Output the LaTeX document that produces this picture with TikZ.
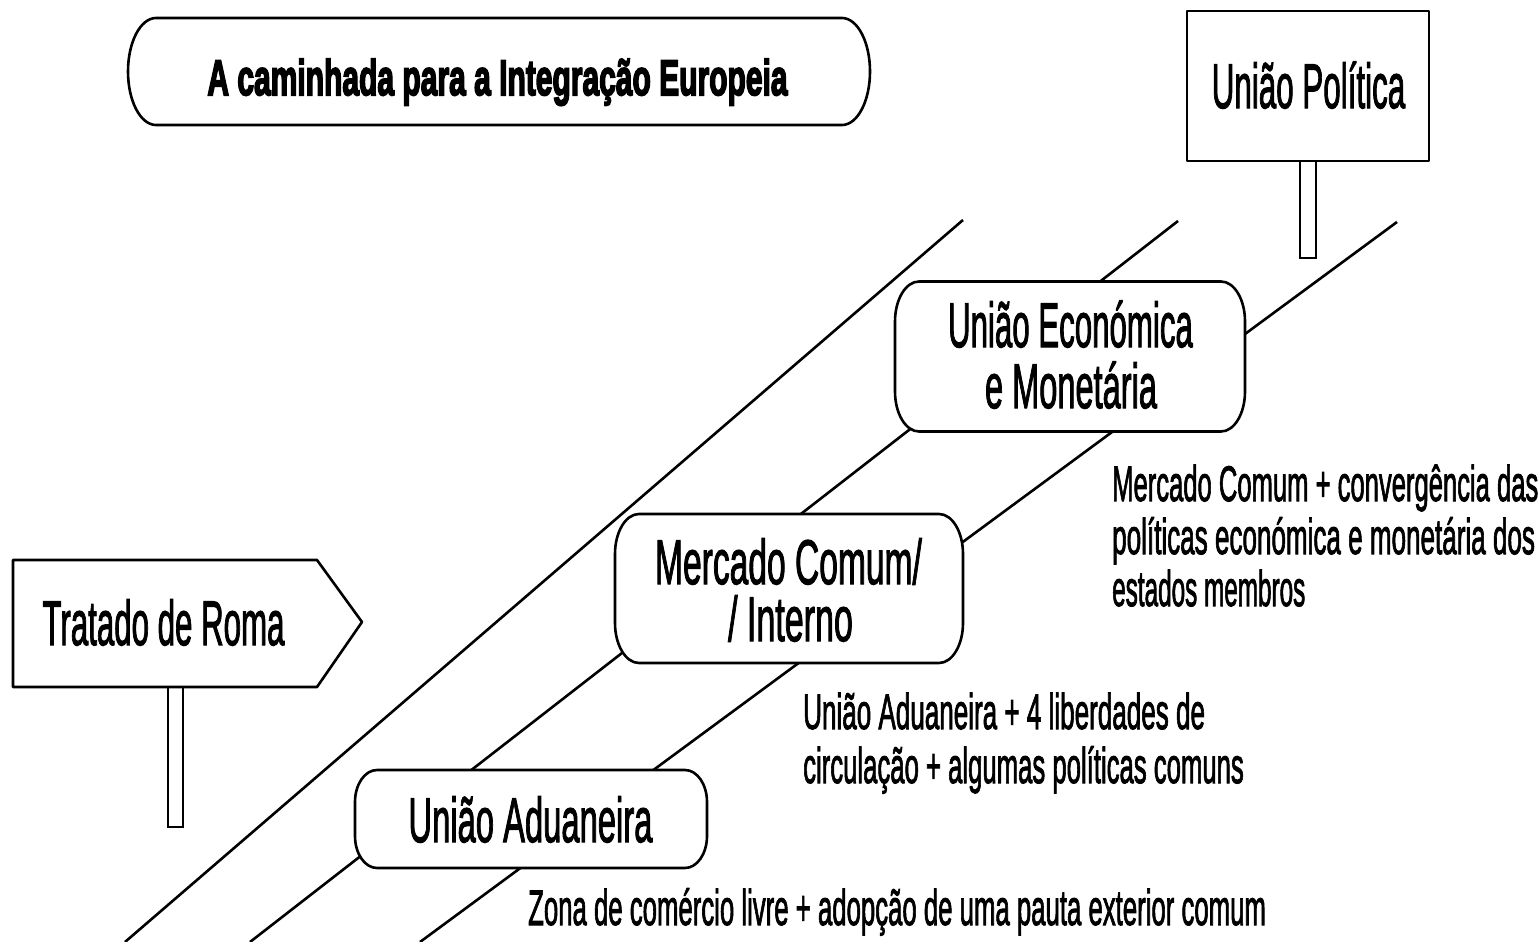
\documentclass[tikz,border=0pt]{standalone}
\usepackage{fontspec}
\setmainfont{Liberation Sans}[UprightFeatures={FakeBold=2.2}, BoldFeatures={FakeBold=4}]
\usepackage{graphicx}
\newcommand{\sqz}[3]{{\fontsize{#1}{#1}\selectfont\scalebox{#2}[1]{#3}}}
\newcommand{\ebox}[3]{%
  \draw[boxline] ([xshift=#2]#1.north west) -- ([xshift=-#2]#1.north east)
    arc[start angle=90,end angle=0,x radius=#2,y radius=#3]
    -- ([yshift=#3]#1.south east)
    arc[start angle=0,end angle=-90,x radius=#2,y radius=#3]
    -- ([xshift=#2]#1.south west)
    arc[start angle=-90,end angle=-180,x radius=#2,y radius=#3]
    -- ([yshift=-#3]#1.north west)
    arc[start angle=180,end angle=90,x radius=#2,y radius=#3] -- cycle;}
\begin{document}
\begin{tikzpicture}[x=1pt,y=-1pt,
  road/.style={line width=2.6pt},
  boxline/.style={draw, fill=white, line width=2.6pt, line join=round},
  post/.style={draw, fill=white, line width=2pt},
  frame/.style={inner sep=0pt, outer sep=0pt, draw=none},
  txt/.style={inner sep=0pt, anchor=base},
  lbl/.style={inner sep=0pt, anchor=base west}]
\useasboundingbox (0,0) rectangle (1540,942);
% road lines
\coordinate (r1s) at (125,942); \coordinate (r1e) at (963,220);
\coordinate (r2s) at (250,942); \coordinate (r2e) at (1178,221);
\coordinate (r3s) at (420,942); \coordinate (r3e) at (1397,222);
\draw[road] (r1s) -- (r1e);
\draw[road] (r2s) -- (r2e);
\draw[road] (r3s) -- (r3e);
% frames
\node[frame, minimum width=742pt, minimum height=107pt] (title) at (499,71.5) {};
\node[frame, minimum width=350pt, minimum height=150pt] (uem) at (1070,356.5) {};
\node[frame, minimum width=348pt, minimum height=149pt] (mc) at (789,588.5) {};
\node[frame, minimum width=352pt, minimum height=98pt] (ua) at (531,819) {};
\node[frame, minimum width=242pt, minimum height=150pt] (pol) at (1308,86) {};
\ebox{title}{28pt}{53.5pt}
\ebox{uem}{24pt}{40pt}
\ebox{mc}{24pt}{40pt}
\ebox{ua}{22pt}{32pt}
% signs
\draw[post] ([xshift=-8pt]pol.south) rectangle ++(16,97);
\draw[boxline] (pol.north west) rectangle (pol.south east);
\draw[post] (168,687) rectangle (183,827);
\draw[boxline] (13,560) -- (317,560) -- (362,622) -- (317,687) -- (13,687) -- cycle;
% texts
\node[txt] (tiT) at (497.5,95) {\bfseries\sqz{50}{0.6}{A caminhada para a Integração Europeia}};
\node[txt] (poT) at (1308.5,108) {\sqz{63}{0.498}{União Política}};
\node[txt] (trT) at (163.5,645) {\sqz{63}{0.496}{Tratado de Roma}};
\node[txt] (uemA) at (1070.5,347) {\sqz{63}{0.496}{União Económica}};
\node[txt] (uemB) at (1071,408) {\sqz{63}{0.517}{e Monetária}};
\node[txt] (mcA) at (788.5,584) {\sqz{63}{0.533}{Mercado Comum/}};
\node[txt] (mcB) at (790.5,641) {\sqz{63}{0.54}{/ Interno}};
\node[txt] (uaT) at (530.5,842) {\sqz{63}{0.52}{União Aduaneira}};
\node[lbl] (emL1) at (1112,501) {\sqz{50}{0.512}{Mercado Comum + convergência das}};
\node[lbl] (emL2) at (1112,554) {\sqz{50}{0.521}{políticas económica e monetária dos}};
\node[lbl] (emL3) at (1112,606) {\sqz{50}{0.486}{estados membros}};
\node[lbl] (mcL1) at (803,729) {\sqz{50}{0.521}{União Aduaneira + 4 liberdades de}};
\node[lbl] (mcL2) at (803,783) {\sqz{50}{0.514}{circulação + algumas políticas comuns}};
\node[lbl] (uaL) at (528,925) {\sqz{50}{0.515}{Zona de comércio livre + adopção de uma pauta exterior comum}};
\end{tikzpicture}
\end{document}
